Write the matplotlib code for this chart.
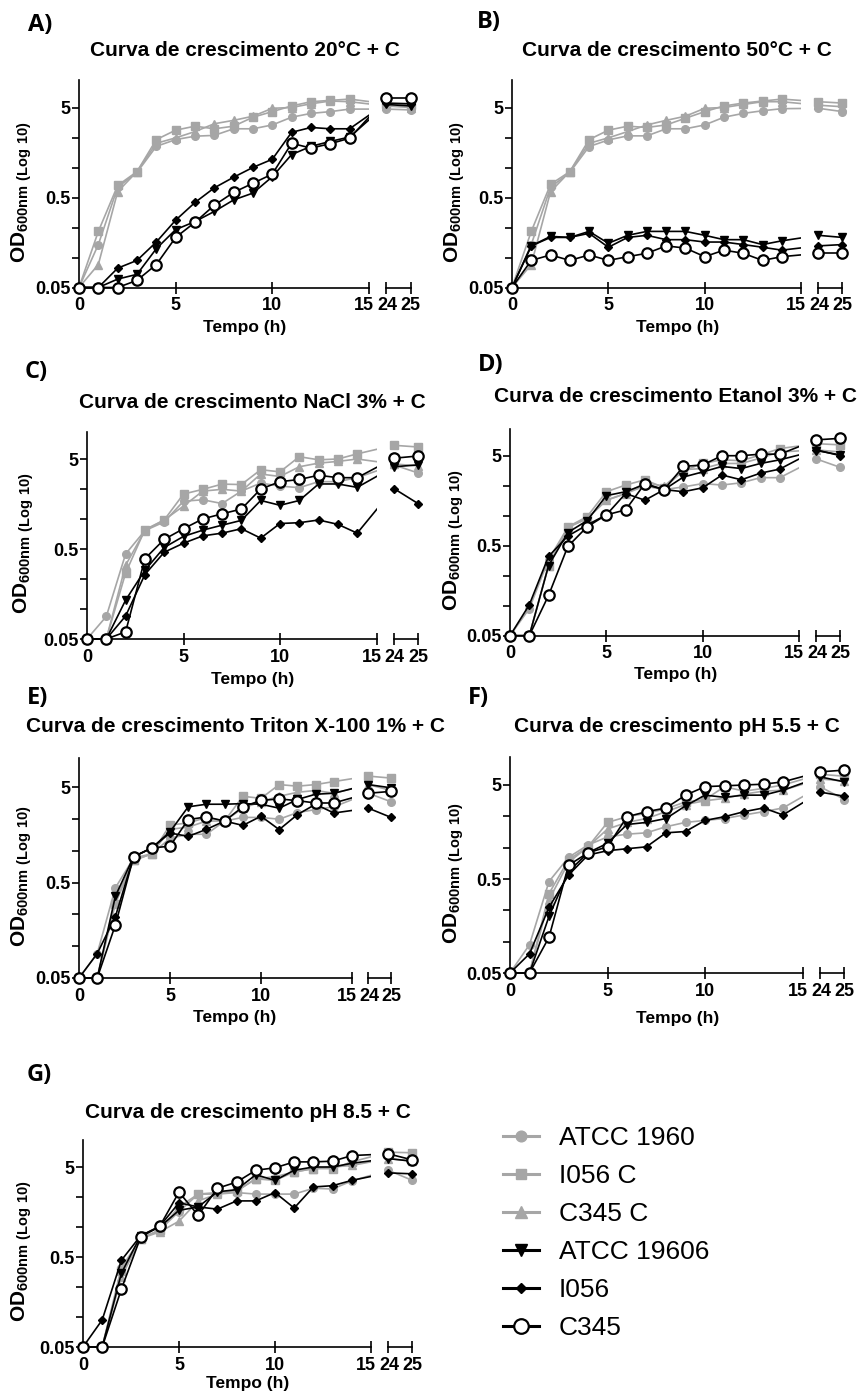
import numpy as np
import matplotlib
matplotlib.use('Agg')
import matplotlib.pyplot as plt
from matplotlib.ticker import FixedLocator, FixedFormatter, NullFormatter
from matplotlib.transforms import ScaledTranslation

plt.rcParams['font.family'] = ['Liberation Sans', 'DejaVu Sans']
plt.rcParams['font.weight'] = 'bold'
plt.rcParams['axes.labelweight'] = 'bold'
plt.rcParams['mathtext.fontset'] = 'custom'
plt.rcParams['mathtext.bf'] = 'Liberation Sans:bold'
plt.rcParams['mathtext.rm'] = 'Liberation Sans:bold'

# Data --------------------------------------------------------------------------
hours = [0, 1, 2, 3, 4, 5, 6, 7, 8, 9, 10, 11, 12, 13, 14, 24, 25]
strains = ['ATCC 1960', 'I056 C', 'C345 C', 'ATCC 19606', 'I056', 'C345']

# A) 20 C
A_atcc_c = [0.05, 0.15, 0.65, 0.95, 1.85, 2.2, 2.4, 2.45, 2.9, 2.9, 3.2, 3.9, 4.3, 4.5, 4.8, 4.8, 4.7]
A_i056_c = [0.05, 0.21, 0.68, 0.97, 2.2, 2.8, 3.1, 2.9, 3.1, 3.9, 4.5, 5.2, 5.8, 6.0, 6.2, 5.5, 5.3]
A_c345_c = [0.05, 0.09, 0.58, 0.97, 2.0, 2.3, 2.7, 3.3, 3.6, 4.0, 4.9, 5.0, 5.5, 5.9, 5.8, 5.2, 5.0]
A_atcc = [0.05, 0.05, 0.062, 0.07, 0.135, 0.22, 0.27, 0.35, 0.47, 0.56, 0.85, 1.5, 1.85, 2.1, 2.35, 5.4, 5.2]
A_i056 = [0.05, 0.05, 0.082, 0.1, 0.16, 0.28, 0.44, 0.64, 0.84, 1.08, 1.33, 2.65, 3.0, 2.9, 2.9, 5.6, 5.5]
A_c345 = [0.05, 0.05, 0.05, 0.06, 0.09, 0.18, 0.265, 0.41, 0.57, 0.72, 0.91, 2.0, 1.77, 1.98, 2.28, 6.3, 6.3]

# B) 50 C
B_atcc_c = [0.05, 0.15, 0.65, 0.95, 1.84, 2.18, 2.42, 2.42, 2.9, 2.9, 3.2, 3.9, 4.3, 4.6, 4.85, 4.9, 4.5]
B_i056_c = [0.05, 0.21, 0.7, 0.97, 2.2, 2.8, 3.1, 3.0, 3.2, 3.8, 4.5, 5.2, 5.6, 5.9, 6.2, 5.8, 5.6]
B_c345_c = [0.05, 0.09, 0.58, 0.97, 2.0, 2.3, 2.7, 3.2, 3.6, 4.0, 4.9, 5.0, 5.4, 5.8, 5.8, 5.3, 5.1]
B_atcc = [0.05, 0.145, 0.185, 0.18, 0.21, 0.155, 0.19, 0.21, 0.21, 0.21, 0.19, 0.17, 0.17, 0.15, 0.165, 0.19, 0.18]
B_i056 = [0.05, 0.145, 0.18, 0.18, 0.2, 0.14, 0.18, 0.19, 0.17, 0.17, 0.16, 0.16, 0.15, 0.14, 0.13, 0.145, 0.15]
B_c345 = [0.05, 0.1, 0.115, 0.1, 0.115, 0.1, 0.11, 0.12, 0.145, 0.137, 0.11, 0.13, 0.12, 0.1, 0.11, 0.12, 0.12]

# C) NaCl 3%
C_atcc_c = [0.05, 0.089, 0.44, 0.8, 1.0, 1.7, 1.76, 1.6, 2.2, 2.7, 2.5, 2.4, 2.8, 2.8, 3.1, 4.3, 3.5]
C_i056_c = [0.05, 0.05, 0.27, 0.82, 1.05, 2.04, 2.3, 2.63, 2.6, 3.8, 3.6, 5.3, 4.9, 5.0, 5.7, 7.1, 6.8]
C_c345_c = [0.05, 0.05, 0.33, 0.8, 1.05, 1.5, 2.2, 2.3, 2.2, 3.4, 3.2, 4.1, 4.5, 4.7, 5.0, 4.4, 4.2]
C_atcc = [0.05, 0.05, 0.135, 0.29, 0.52, 0.69, 0.81, 0.92, 1.04, 1.73, 1.53, 1.73, 2.64, 2.64, 2.42, 4.1, 4.3]
C_i056 = [0.05, 0.05, 0.09, 0.26, 0.46, 0.58, 0.7, 0.75, 0.84, 0.66, 0.96, 0.98, 1.05, 0.94, 0.75, 2.35, 1.6]
C_c345 = [0.05, 0.05, 0.06, 0.39, 0.64, 0.84, 1.08, 1.23, 1.39, 2.32, 2.8, 2.96, 3.3, 3.1, 3.1, 5.1, 5.4]

# D) Etanol 3%
D_atcc_c = [0.05, 0.1, 0.35, 0.8, 1.0, 1.6, 1.9, 2.3, 2.1, 2.25, 2.45, 2.36, 2.5, 2.85, 2.85, 4.6, 3.7]
D_i056_c = [0.05, 0.05, 0.3, 0.81, 1.05, 1.99, 2.36, 2.7, 2.2, 3.4, 4.1, 4.5, 4.4, 5.1, 6.0, 6.8, 6.6]
D_c345_c = [0.05, 0.05, 0.3, 0.8, 1.0, 1.6, 1.9, 2.5, 2.3, 3.5, 3.6, 4.1, 4.1, 4.7, 5.5, 5.8, 5.5]
D_atcc = [0.05, 0.05, 0.3, 0.7, 0.95, 1.8, 1.99, 2.4, 2.1, 2.9, 3.3, 3.8, 3.6, 4.1, 4.5, 5.7, 5.1]
D_i056 = [0.05, 0.11, 0.38, 0.64, 0.85, 1.1, 1.9, 1.6, 2.1, 1.99, 2.2, 3.05, 2.7, 3.2, 3.55, 5.8, 5.0]
D_c345 = [0.05, 0.05, 0.14, 0.49, 0.81, 1.1, 1.25, 2.45, 2.1, 3.8, 3.95, 5.0, 5.0, 5.2, 5.2, 7.5, 7.8]

# E) Triton X-100 1%
E_atcc_c = [0.05, 0.09, 0.44, 0.9, 1.0, 1.45, 1.6, 1.6, 2.2, 2.4, 2.4, 2.3, 2.7, 2.9, 3.1, 4.3, 3.5]
E_i056_c = [0.05, 0.05, 0.3, 0.85, 1.0, 2.0, 2.1, 2.4, 2.2, 4.0, 3.8, 5.3, 5.1, 5.3, 5.7, 6.5, 6.2]
E_c345_c = [0.05, 0.05, 0.33, 0.85, 1.0, 1.8, 1.9, 2.2, 2.2, 3.0, 3.5, 4.0, 4.4, 4.6, 4.3, 5.3, 4.6]
E_atcc = [0.05, 0.05, 0.36, 0.93, 1.15, 1.7, 3.1, 3.3, 3.3, 3.35, 3.3, 3.0, 3.7, 4.2, 4.3, 5.3, 4.9]
E_i056 = [0.05, 0.09, 0.22, 0.93, 1.15, 1.65, 1.52, 1.8, 2.2, 1.98, 2.47, 1.79, 2.57, 3.3, 2.67, 3.0, 2.4]
E_c345 = [0.05, 0.05, 0.18, 0.93, 1.15, 1.2, 2.28, 2.43, 2.2, 3.1, 3.62, 3.75, 3.6, 3.4, 3.4, 4.3, 4.5]

# F) pH 5.5
F_atcc_c = [0.05, 0.1, 0.47, 0.85, 1.15, 1.4, 1.5, 1.55, 1.8, 2.0, 2.1, 2.2, 2.4, 2.6, 2.85, 4.8, 3.5]
F_i056_c = [0.05, 0.05, 0.35, 0.8, 1.1, 2.0, 2.3, 2.5, 2.8, 3.3, 3.5, 4.8, 4.3, 4.6, 5.0, 6.5, 6.2]
F_c345_c = [0.05, 0.05, 0.3, 0.75, 1.1, 1.7, 2.0, 2.2, 2.6, 3.1, 3.4, 3.6, 4.0, 4.3, 4.4, 5.8, 5.5]
F_atcc = [0.05, 0.05, 0.2, 0.6, 0.95, 1.2, 1.9, 2.0, 2.2, 3.0, 3.9, 3.7, 3.9, 3.9, 4.4, 6.1, 5.4]
F_i056 = [0.05, 0.08, 0.25, 0.55, 0.9, 1.0, 1.05, 1.1, 1.55, 1.6, 2.1, 2.3, 2.6, 2.85, 2.4, 4.2, 3.8]
F_c345 = [0.05, 0.05, 0.12, 0.7, 0.95, 1.1, 2.3, 2.6, 2.85, 3.9, 4.8, 4.9, 5.0, 5.1, 5.4, 6.9, 7.2]

# G) pH 8.5
G_atcc_c = [0.05, 0.05, 0.38, 0.8, 1.0, 1.6, 2.5, 2.5, 2.6, 2.5, 2.5, 2.5, 2.9, 2.85, 3.5, 4.6, 3.55]
G_i056_c = [0.05, 0.05, 0.35, 0.8, 1.0, 1.8, 2.5, 2.6, 2.7, 3.7, 3.55, 4.4, 4.8, 4.8, 5.7, 7.3, 7.2]
G_c345_c = [0.05, 0.05, 0.3, 0.8, 0.95, 1.25, 2.1, 2.5, 2.7, 3.7, 3.9, 4.4, 4.8, 5.0, 5.2, 6.2, 5.8]
G_atcc = [0.05, 0.05, 0.33, 0.86, 1.08, 1.65, 1.8, 2.65, 2.8, 4.1, 3.55, 4.6, 5.0, 5.0, 5.5, 6.2, 5.8]
G_i056 = [0.05, 0.1, 0.46, 0.86, 1.1, 2.0, 1.8, 1.7, 2.1, 2.1, 2.6, 1.75, 3.0, 3.1, 3.55, 4.3, 4.2]
G_c345 = [0.05, 0.05, 0.22, 0.83, 1.1, 2.63, 1.45, 2.9, 3.4, 4.6, 4.9, 5.7, 5.7, 5.8, 6.7, 7.0, 6.0]

# Styles / layout ---------------------------------------------------------------
W, H = 859, 1396
GREY = '#a6a6a6'
styles = [
    dict(color=GREY, marker='o', ms=5.5),
    dict(color=GREY, marker='s', ms=5.5),
    dict(color=GREY, marker='^', ms=6),
    dict(color='black', marker='v', ms=6),
    dict(color='black', marker='D', ms=3.8),
    dict(color='black', marker='o', ms=7.5, mfc='white', mew=1.6),
]

# broken time axis: 15 h -> 24 h compressed
POS24, SEG = 15.9, 1.25
XP = [-100, 15, 24, 100]
FP = [-100, 15, POS24, POS24 + 76 * SEG]


def fwd(t):
    return np.interp(t, XP, FP)


def inv(p):
    return np.interp(p, FP, XP)


YMAX, YPAD = 10, 0.08


def px_rect(left, top, right, bottom):
    return [left / W, 1 - bottom / H, (right - left) / W, (bottom - top) / H]


def nudge(label, dx_px, fig):
    '''shift a tick label sideways by dx_px pixels'''
    label.set_transform(label.get_transform() +
                        ScaledTranslation(dx_px / fig.dpi, 0, fig.dpi_scale_trans))


def draw_panel(fig, p):
    x0, step, y005, dec = p['x0'], p['step'], p['y005'], p['dec']
    top = y005 - np.log10(YMAX / 0.05) * dec
    bot = y005 + YPAD * dec
    ax = fig.add_axes(px_rect(x0 - 0.45 * step, top, x0 + 15 * step, bot))
    ax2 = fig.add_axes(px_rect(x0 + (POS24 - 0.35 * SEG) * step, top,
                               x0 + (POS24 + 1.35 * SEG) * step, bot), sharey=ax)
    ax.set_xscale('function', functions=(fwd, inv))
    ax.set_yscale('log')

    lines = []
    for vals, st in zip(p['series'], styles):
        ln, = ax.plot(hours, vals, lw=1.2, zorder=3, **st)
        ax2.plot(hours[-2:], vals[-2:], lw=1.2, zorder=3, **st)
        lines.append(ln)

    ax.set_xlim(-0.45, 15)
    ax2.set_xlim(24 - 0.35, 25 + 0.35)
    ax.set_ylim(0.05 * 10 ** -YPAD, YMAX)

    for a in (ax, ax2):
        a.spines['top'].set_visible(False)
        a.spines['right'].set_visible(False)
        a.spines['bottom'].set_position(('data', 0.05))
        a.spines['bottom'].set_linewidth(1.2)
        a.patch.set_alpha(0)
        a.tick_params(axis='x', direction='inout', length=8, width=1.2, labelsize=13, pad=3)
    ax.spines['left'].set_position(('data', 0))
    ax.spines['left'].set_bounds(0.05, YMAX)
    ax.spines['left'].set_linewidth(1.2)
    ax.spines['bottom'].set_bounds(0, 15)
    ax2.spines['left'].set_visible(False)
    ax2.spines['bottom'].set_bounds(24, 25)

    ax.yaxis.set_major_locator(FixedLocator([0.05, 0.5, 5]))
    ax.yaxis.set_major_formatter(FixedFormatter(['0.05', '0.5', '5']))
    ax.yaxis.set_minor_locator(FixedLocator([0.05 * 10 ** (k / 3) for k in (1, 2, 4, 5)]))
    ax.yaxis.set_minor_formatter(NullFormatter())
    ax.tick_params(axis='y', which='both', direction='out', length=5, width=1.2,
                   labelsize=13, pad=1)
    ax2.tick_params(axis='y', which='both', left=False, labelleft=False)

    ax.set_xticks([0, 5, 10, 15])
    ax.set_xticklabels(['0', '5', '10', '15'])
    ax.xaxis.set_minor_locator(FixedLocator([]))
    ax2.set_xticks([24, 25])
    ax2.set_xticklabels(['24', '25'])
    # "15" and "24" nearly touch, as in the original; pull them slightly apart
    nudge(ax.xaxis.get_major_ticks()[-1].label1, -5, fig)
    nudge(ax2.xaxis.get_major_ticks()[0].label1, 1, fig)

    xc = x0 + (POS24 + SEG) * step / 2
    ax.set_xlabel('Tempo (h)', fontsize=12.5, fontweight='bold')
    ax.xaxis.set_label_coords(xc / W, 1 - p['xlab_y'] / H, transform=fig.transFigure)
    ax.set_ylabel(r'$\mathbf{OD}_{\mathbf{600nm\ (Log\ 10)}}$', fontsize=15)
    ax.yaxis.set_label_coords(p['ylab_x'] / W, 1 - ((top + y005) / 2 + 8) / H,
                              transform=fig.transFigure)

    fig.text(xc / W, 1 - p['title_y'] / H, p['title'], fontsize=15,
             ha='center', va='center')
    fig.text(p['lab_xy'][0] / W, 1 - p['lab_xy'][1] / H, p['label'],
             fontsize=17, family=['Open Sans', 'DejaVu Sans'], weight='bold',
             ha='left', va='center')
    return lines


panels = [
    dict(label='A)', title='Curva de crescimento 20°C + C',
         series=[A_atcc_c, A_i056_c, A_c345_c, A_atcc, A_i056, A_c345],
         x0=79, step=19.33, y005=287.5, dec=90, title_y=50, lab_xy=(28, 25),
         xlab_y=320, ylab_x=34),
    dict(label='B)', title='Curva de crescimento 50°C + C',
         series=[B_atcc_c, B_i056_c, B_c345_c, B_atcc, B_i056, B_c345],
         x0=512, step=19.27, y005=287.5, dec=90, title_y=50, lab_xy=(477, 22),
         xlab_y=320, ylab_x=467),
    dict(label='C)', title='Curva de crescimento NaCl 3% + C',
         series=[C_atcc_c, C_i056_c, C_c345_c, C_atcc, C_i056, C_c345],
         x0=87, step=19.3, y005=639, dec=90, title_y=402, lab_xy=(25, 372),
         xlab_y=672, ylab_x=36),
    dict(label='D)', title='Curva de crescimento Etanol 3% + C',
         series=[D_atcc_c, D_i056_c, D_c345_c, D_atcc, D_i056, D_c345],
         x0=510, step=19.27, y005=635.7, dec=90, title_y=397, lab_xy=(478, 365),
         xlab_y=667, ylab_x=466),
    dict(label='E)', title='Curva de crescimento Triton X-100 1% + C',
         series=[E_atcc_c, E_i056_c, E_c345_c, E_atcc, E_i056, E_c345],
         x0=79, step=18.2, y005=978, dec=95.5, title_y=727, lab_xy=(27, 698),
         xlab_y=1010, ylab_x=34),
    dict(label='F)', title='Curva de crescimento pH 5.5 + C',
         series=[F_atcc_c, F_i056_c, F_c345_c, F_atcc, F_i056, F_c345],
         x0=510, step=19.5, y005=973, dec=94, title_y=727, lab_xy=(468, 698),
         xlab_y=1011, ylab_x=466),
    dict(label='G)', title='Curva de crescimento pH 8.5 + C',
         series=[G_atcc_c, G_i056_c, G_c345_c, G_atcc, G_i056, G_c345],
         x0=83, step=19.2, y005=1347, dec=90, title_y=1112, lab_xy=(27, 1075),
         xlab_y=1376, ylab_x=34),
]

fig = plt.figure(figsize=(W / 100, H / 100), dpi=100)
for p in panels:
    lines = draw_panel(fig, p)

leg = fig.legend(lines, strains, loc='upper left',
                 bbox_to_anchor=(503 / W, 1 - 1126 / H), frameon=False,
                 prop={'family': 'Liberation Sans', 'weight': 'normal', 'size': 19},
                 handlelength=1.36, handletextpad=0.76, labelspacing=0.53,
                 borderpad=0, borderaxespad=0, markerscale=1.4)
for h in leg.legend_handles:
    h.set_linewidth(2.2)

fig.savefig('out.png', dpi=100)
